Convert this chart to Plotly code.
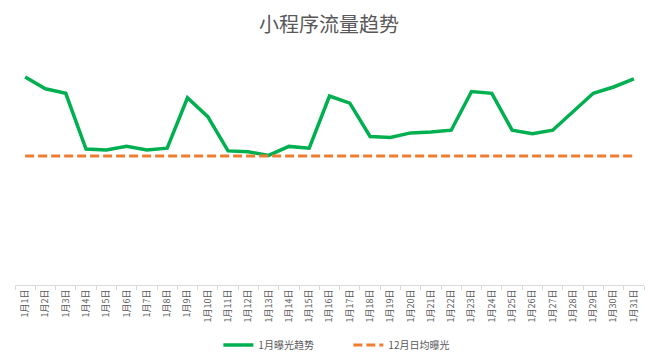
import plotly.graph_objects as go

days = [f"1月{i}日" for i in range(1, 32)]
jan_exposure = [2310, 2180, 2130, 1510, 1500, 1540, 1500, 1520, 2080, 1870,
                1490, 1480, 1440, 1540, 1520, 2100, 2020, 1650, 1640, 1690,
                1700, 1720, 2150, 2130, 1720, 1680, 1720, 1920, 2130, 2200, 2290]
dec_avg = 1432
dec_avg_series = [dec_avg] * len(days)

font_family = "Noto Sans CJK SC, Noto Sans, sans-serif"
gray = "#595959"

fig = go.Figure()
fig.add_trace(go.Scatter(x=days, y=jan_exposure, mode="lines", name="1月曝光趋势",
                         line=dict(color="#00B050", width=3.5)))
fig.add_trace(go.Scatter(x=days, y=dec_avg_series, mode="lines", name="12月日均曝光",
                         line=dict(color="#ED7D31", width=3, dash="9px,4px")))

fig.update_layout(
    width=658, height=364,
    margin=dict(l=15, r=14, t=60, b=79, autoexpand=False),
    paper_bgcolor="white", plot_bgcolor="white",
    font=dict(family=font_family, color=gray),
    title=dict(text="小程序流量趋势", x=0.5, xanchor="center", y=0.93, yanchor="middle",
               font=dict(size=20, color=gray, family=font_family)),
    showlegend=True,
    legend=dict(orientation="h", x=0.53, xanchor="center", y=-0.267, yanchor="middle",
                font=dict(size=10, color=gray), entrywidth=85),
    xaxis=dict(type="category", range=[-0.5, len(days) - 0.5], showgrid=False,
               showline=True, linecolor="#d9d9d9",
               linewidth=1, ticks="outside", tickson="boundaries", ticklen=4,
               tickcolor="#d9d9d9", tickangle=-90, tickfont=dict(size=9, color=gray),
               zeroline=False, automargin=False),
    yaxis=dict(range=[0, 2500], showgrid=False, showticklabels=False, zeroline=False,
               showline=False, ticks="", automargin=False),
)

fig.write_html("out.html", post_script="document.body.style.margin='0';",
               config={"displayModeBar": False})
